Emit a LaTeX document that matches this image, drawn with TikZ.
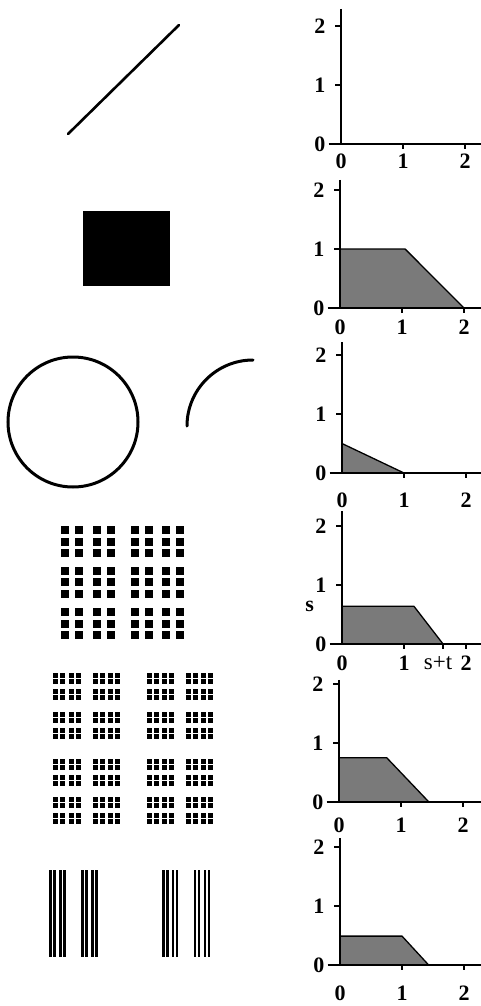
\documentclass[tikz,border=0pt]{standalone}
\usepackage{fontspec}
\setmainfont{Liberation Serif}
\usetikzlibrary{positioning}
\tikzset{
  axis/.style={line width=1.5pt, draw=black},
  tck/.style={line width=1.3pt, draw=black},
  region/.style={draw=black, line width=1.3pt, fill=black!52, line join=round},
  num/.style={font=\fontsize{22}{24}\selectfont\bfseries, inner sep=0pt},
  sym/.style={font=\fontsize{23}{25}\selectfont, inner sep=0pt},
  curve/.style={line width=2.6pt, line cap=round},
  dot/.style={fill=black},
  bar/.style={line width=2.2pt},
}

\begin{document}
\begin{tikzpicture}[x=1pt, y=-1pt]
\useasboundingbox (0,0) rectangle (481,1006);

% ============================ left column: sets ==========================
\draw[curve] (68,134) -- (179,25);
\fill[dot] (83,211) rectangle (170,286);
\draw[curve, line width=3pt] (73,422) circle [radius=65];
\draw[curve, line width=3pt] (187,426) arc [start angle=180, end angle=270, radius=66];

% square dots, 8 columns by 9 rows
\foreach \x in {65,79,97,111,135,149,166,180}
  \foreach \y in {530,542,553,571,582,594,612,624,635}
    \fill[dot] (\x-4,\y-4) rectangle ++(8,8);

% small clusters of 2x2 squares
\foreach \x in {53,69,93,108,147,162,186,201}
  \foreach \y in {673,689,712,728,759,775,797,813}
    \foreach \dx in {0,7}
      \foreach \dy in {0,6}
        \fill[dot] (\x+\dx,\y+\dy) rectangle ++(5,4.5);

% vertical bars
\foreach \x in {50.5,54.5,60.5,64.5,82.5,86.5,92.5,96.5,163.5,167.5,173,177,195,199,205,209}
  \draw[bar] (\x,870) -- (\x,957);

% ============================ right column: s,t planes ===================
\foreach \i/\ox/\oy in {1/341/144, 2/340/308, 3/342/473, 4/342/644, 5/339/802, 6/340/965}
  \coordinate (o\i) at (\ox,\oy);

\filldraw[region, shift={(o2)}, x=62pt, y=59pt] (0,0) -- (0,1) -- (1.05,1) -- (2,0) -- cycle;
\filldraw[region, shift={(o3)}, x=62pt, y=59pt] (0,0) -- (0,0.5) -- (1,0) -- cycle;
\filldraw[region, shift={(o4)}, x=62pt, y=59pt] (0,0) -- (0,0.64) -- (1.16,0.64) -- (1.63,0) -- cycle;
\filldraw[region, shift={(o5)}, x=62pt, y=59pt] (0,0) -- (0,0.75) -- (0.77,0.75) -- (1.45,0) -- cycle;
\filldraw[region, shift={(o6)}, x=62pt, y=59pt] (0,0) -- (0,0.49) -- (1,0.49) -- (1.43,0) -- cycle;

\foreach \i/\top/\lo in {1/2.29/17, 2/2.17/19, 3/2.22/27, 4/2.25/19, 5/2.07/23, 6/2.15/28}
{
  \pgfmathsetmacro{\ly}{-\lo/59}
  \begin{scope}[shift={(o\i)}, x=62pt, y=59pt]
    \coordinate (yt\i) at (0,\top);
    \coordinate (xl\i) at (-0.2,0);
    \coordinate (xr\i) at (2.3,0);
    \draw[axis] (yt\i) -- (o\i);
    \draw[axis] (xl\i) -- (xr\i);
    \foreach \t in {1,2} {
      \draw[tck] (0,\t) -- ++(-0.09,0);
      \draw[tck] (\t,0) -- ++(0,-0.09);
    }
    \foreach \t in {0,1,2} {
      \node[num] (yl\i\t) at (-0.34,\t) {\t};
    }
    \node[num] (xl\i0) at (0,\ly) {0};
    \node[num] (xl\i1) at (1,\ly) {1};
    \node[num] (xl\i2) at (2,\ly) {2};
  \end{scope}
}

% labels of the general case
\begin{scope}[shift={(o4)}, x=62pt, y=59pt]
  \draw[tck] (1.63,0) -- ++(0,-0.09);
  \node[num] (sl) at (-0.52,0.64) {s};
  \node[sym] (stl) at (1.55,-0.33) {s+t};
\end{scope}

\end{tikzpicture}
\end{document}
